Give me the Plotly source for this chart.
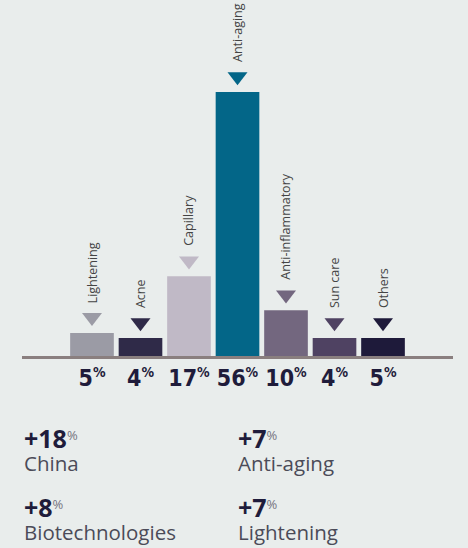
import plotly.graph_objects as go

# ---- data ----
categories = ["Lightening", "Acne", "Capillary", "Anti-aging", "Anti-inflammatory", "Sun care", "Others"]
bar_heights = [4.9, 3.8, 16.9, 56, 9.7, 3.8, 3.8]
share_labels = ["5", "4", "17", "56", "10", "4", "5"]
bar_colors = ["#9b9ba5", "#2f2a48", "#c0b9c6", "#036688", "#73677f", "#4f4262", "#1e1a3a"]

stat_values = ["+18", "+7", "+8", "+7"]
stat_names = ["China", "Anti-aging", "Biotechnologies", "Lightening"]

# ---- layout geometry ----
W, H = 468, 548
ML, MR, MT, MB = 22, 15, 26, 192
PW, PH = W - ML - MR, H - MT - MB
YMAX = 70
PXU = PH / YMAX
XR = [-1.443, 7.443]

def xp(px):
    return (px - ML) / PW

def yp(py):
    return (H - MB - py) / PH

BG = "#e9edec"
NAVY = "#1f1c3b"

fig = go.Figure()
idx = list(range(len(categories)))
fig.add_trace(go.Bar(x=idx, y=bar_heights, marker=dict(color=bar_colors, line=dict(width=0)),
                     width=0.9, hoverinfo="skip"))
fig.add_trace(go.Scatter(x=idx, y=[v + 15.5 / PXU for v in bar_heights], mode="markers",
                         marker=dict(symbol="triangle-down", size=17.3, color=bar_colors, line=dict(width=0)),
                         hoverinfo="skip", cliponaxis=False))

annotations = []
for i, (c, v) in enumerate(zip(categories, bar_heights)):
    annotations.append(dict(x=i, y=v, xref="x", yref="y", text=c, textangle=-90, showarrow=False,
                            xanchor="center", yanchor="bottom", yshift=28,
                            font=dict(family="Open Sans", size=12.5, color="#444444")))

stat_x = [23, 237, 23, 237]
stat_bottom = [478.7, 478.7, 547.7, 547.7]
for k in range(4):
    txt = (f"<span style='font-size:25px;color:{NAVY}'><b>{stat_values[k]}</b></span>"
           f"<sup><span style='font-size:13px;color:#74747f'>%</span></sup>"
           f"<br><span style='font-size:20.5px;color:#4b4b58'>{stat_names[k]}</span>")
    annotations.append(dict(x=xp(stat_x[k] - 1), y=yp(stat_bottom[k]), xref="paper", yref="paper",
                            text=txt, showarrow=False, xanchor="left", yanchor="bottom", align="left",
                            font=dict(family="Open Sans", size=18, color=NAVY)))

fig.update_layout(
    width=W, height=H,
    margin=dict(l=ML, r=MR, t=MT, b=MB, pad=0),
    paper_bgcolor=BG, plot_bgcolor=BG,
    showlegend=False,
    bargap=0.1,
    annotations=annotations,
    xaxis=dict(range=XR, tickmode="array", tickvals=idx, tickangle=0,
               ticktext=[f"{s}<sup><span style='font-size:14px'>%</span></sup>" for s in share_labels],
               tickfont=dict(family="Liberation Sans Narrow, DejaVu Sans Condensed, Roboto Condensed, Open Sans Condensed, Open Sans",
                             size=23, color=NAVY, weight="bold"),
               ticks="", showgrid=False, zeroline=False, showline=True,
               linecolor="#8a7f7f", linewidth=2.5, fixedrange=True),
    yaxis=dict(range=[0, YMAX], visible=False, showgrid=False, zeroline=False, fixedrange=True),
)

fig.write_html("out.html", config={"displayModeBar": False},
               post_script="document.body.style.margin='0';document.body.style.padding='0';"
                           "document.body.style.background='" + BG + "';"
                           "document.body.style.overflow='hidden';")
